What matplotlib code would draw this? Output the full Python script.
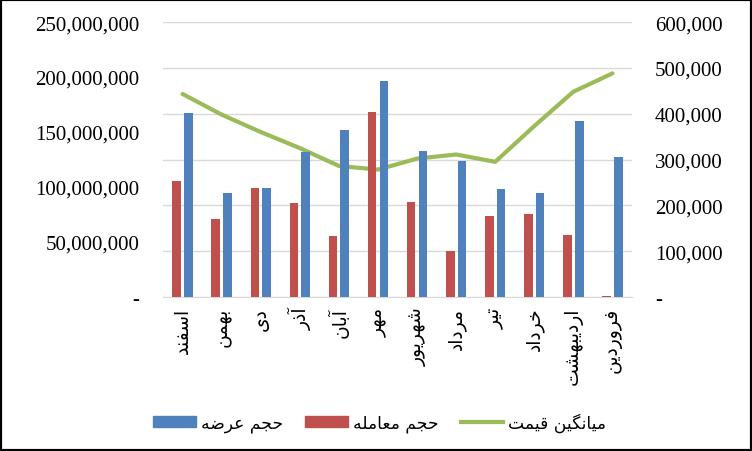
import matplotlib
matplotlib.use("Agg")
import matplotlib.pyplot as plt
import numpy as np
from matplotlib.patches import Rectangle, Patch
from matplotlib.lines import Line2D
from matplotlib.ticker import FuncFormatter, MultipleLocator

months = ["اسفند", "بهمن", "دی", "آذر", "آبان", "مهر",
          "شهریور", "مرداد", "تیر", "خرداد", "اردیبهشت", "فروردین"]
supply = [167.3, 94.8, 99.3, 131.9, 151.9, 196.3,
          132.9, 123.8, 98.4, 94.8, 160.0, 127.4]  # million
trades = [105.7, 71.3, 99.3, 85.7, 55.9, 168.2,
          86.7, 41.4, 74.0, 75.8, 56.8, 0.6]  # million
avg_price = [443, 398, 360, 325, 286, 278,
             302, 311, 295, 373, 448, 488]  # thousand

supply_label = "حجم عرضه"
trades_label = "حجم معامله"
price_label = "میانگین قیمت"

# simple arabic/persian shaping (matplotlib has no complex text layout)
FORMS = {
    "ا": ("\uFE8D", "\uFE8E", None, None),
    "آ": ("\uFE81", "\uFE82", None, None),
    "ب": ("\uFE8F", "\uFE90", "\uFE91", "\uFE92"),
    "ت": ("\uFE95", "\uFE96", "\uFE97", "\uFE98"),
    "ج": ("\uFE9D", "\uFE9E", "\uFE9F", "\uFEA0"),
    "ح": ("\uFEA1", "\uFEA2", "\uFEA3", "\uFEA4"),
    "خ": ("\uFEA5", "\uFEA6", "\uFEA7", "\uFEA8"),
    "د": ("\uFEA9", "\uFEAA", None, None),
    "ذ": ("\uFEAB", "\uFEAC", None, None),
    "ر": ("\uFEAD", "\uFEAE", None, None),
    "س": ("\uFEB1", "\uFEB2", "\uFEB3", "\uFEB4"),
    "ش": ("\uFEB5", "\uFEB6", "\uFEB7", "\uFEB8"),
    "ض": ("\uFEBD", "\uFEBE", "\uFEBF", "\uFEC0"),
    "ع": ("\uFEC9", "\uFECA", "\uFECB", "\uFECC"),
    "ف": ("\uFED1", "\uFED2", "\uFED3", "\uFED4"),
    "ق": ("\uFED5", "\uFED6", "\uFED7", "\uFED8"),
    "ل": ("\uFEDD", "\uFEDE", "\uFEDF", "\uFEE0"),
    "م": ("\uFEE1", "\uFEE2", "\uFEE3", "\uFEE4"),
    "ن": ("\uFEE5", "\uFEE6", "\uFEE7", "\uFEE8"),
    "ه": ("\uFEE9", "\uFEEA", "\uFEEB", "\uFEEC"),
    "و": ("\uFEED", "\uFEEE", None, None),
    "ی": ("\uFBFC", "\uFBFD", "\uFBFE", "\uFBFF"),
    "گ": ("\uFB92", "\uFB93", "\uFB94", "\uFB95"),
}


def shape(text):
    out = []
    for i, ch in enumerate(text):
        if ch not in FORMS:
            out.append(ch)
            continue
        prev = text[i - 1] if i > 0 else ""
        nxt = text[i + 1] if i + 1 < len(text) else ""
        dual = FORMS[ch][2] is not None
        jp = prev in FORMS and FORMS[prev][2] is not None
        jn = dual and nxt in FORMS
        if jp and jn:
            out.append(FORMS[ch][3])
        elif jp:
            out.append(FORMS[ch][1])
        elif jn:
            out.append(FORMS[ch][2])
        else:
            out.append(FORMS[ch][0])
    return "".join(out)[::-1]


blue = "#4F81BD"
red = "#C0504D"
green = "#9BBB59"

fig = plt.figure(figsize=(7.52, 4.52), dpi=100)
ax = fig.add_axes([0.2168, 0.3407, 0.6236, 0.6083])
ax2 = ax.twinx()

x = np.arange(len(months))
ax.bar(x - 0.15, trades, width=0.22, color=red, zorder=3)
ax.bar(x + 0.15, supply, width=0.22, color=blue, zorder=3)
ax2.plot(x, avg_price, color=green, linewidth=3, solid_capstyle="round", zorder=4)

ax.set_xlim(-0.5, len(months) - 0.5)
ax.set_ylim(0, 250)
ax2.set_ylim(0, 600)
ax.yaxis.set_major_locator(MultipleLocator(50))
ax2.yaxis.set_major_locator(MultipleLocator(100))
ax.yaxis.set_major_formatter(FuncFormatter(lambda v, p: "-" if v == 0 else f"{int(v * 1e6):,}"))
ax2.yaxis.set_major_formatter(FuncFormatter(lambda v, p: "-" if v == 0 else f"{int(v * 1e3):,}"))

ax2.grid(axis="y", color="#D9D9D9", linewidth=1)
ax2.set_axisbelow(True)
ax.set_zorder(ax2.get_zorder() + 1)
ax.patch.set_visible(False)

for a in (ax, ax2):
    for s in a.spines.values():
        s.set_visible(False)
    a.tick_params(length=0)
ax.spines["bottom"].set_visible(True)
ax.spines["bottom"].set_color("#D9D9D9")

for lab in ax.get_yticklabels() + ax2.get_yticklabels():
    lab.set_fontfamily("Liberation Serif")
    lab.set_fontsize(15)
ax.tick_params(axis="y", pad=17)
ax2.tick_params(axis="y", pad=16.5)

ax.set_xticks(x)
ax.set_xticklabels([shape(m) for m in months], rotation=90, fontsize=13.5,
                   family="DejaVu Sans", va="top", ha="center")
ax.tick_params(axis="x", pad=7)

handles = [Patch(color=blue), Patch(color=red), Line2D([], [], color=green, linewidth=3)]
labels = [shape(supply_label), shape(trades_label), shape(price_label)]
fig.legend(handles, labels, loc="center", bbox_to_anchor=(0.505, 0.063), ncol=3,
           frameon=False, handlelength=2.5, handleheight=0.6,
           columnspacing=1.3, handletextpad=0.3, prop={"family": "DejaVu Sans", "size": 12.3})

fig.patches.append(Rectangle((0, 0), 1, 1, transform=fig.transFigure, fill=False,
                             edgecolor="black", linewidth=3))

fig.savefig("out.png", dpi=100)
